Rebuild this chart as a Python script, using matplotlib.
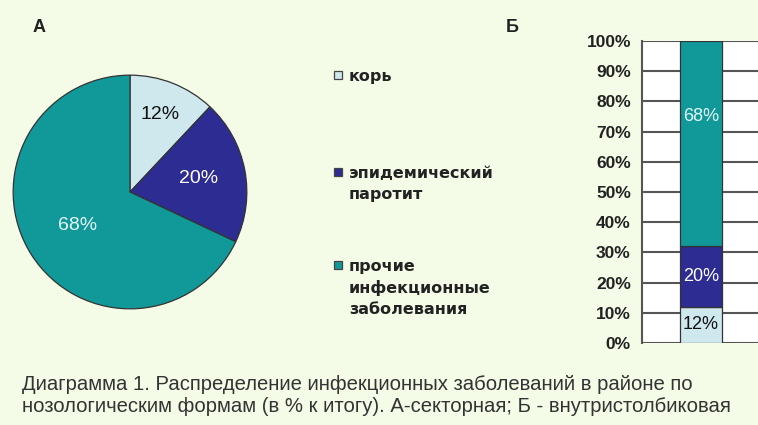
import matplotlib
matplotlib.use("Agg")
import matplotlib.pyplot as plt
import numpy as np

categories = ["корь", "эпидемический\nпаротит", "прочие\nинфекционные\nзаболевания"]
values = [12, 20, 68]
pct_labels = ["12%", "20%", "68%"]
yticks = [0, 10, 20, 30, 40, 50, 60, 70, 80, 90, 100]
ytick_labels = [f"{v}%" for v in yticks]
caption_lines = ["Диаграмма 1. Распределение инфекционных заболеваний в районе по",
                 "нозологическим формам (в % к итогу). А-секторная; Б - внутристолбиковая"]

colors = ["#cfe8ee", "#2d2c92", "#11999a"]
pct_colors = ["#111111", "#ffffff", "#e4f6f6"]
BG = "#f4fbe6"

W, H = 758, 425
fig = plt.figure(figsize=(W / 100, H / 100), dpi=100, facecolor=BG)

def fx(px):
    return px / W

def fy(py):
    return 1 - py / H

# Pie
axp = fig.add_axes([fx(12), fy(310), 236 / W, 236 / H])
axp.set_facecolor(BG)
wedges, _ = axp.pie(values, colors=colors, startangle=90, counterclock=False,
                    radius=1, wedgeprops=dict(edgecolor="#333333", linewidth=0.9))
axp.set_xlim(-1.01, 1.01)
axp.set_ylim(-1.01, 1.01)
axp.set_aspect("equal")
axp.axis("off")
radii = [0.71, 0.60, 0.53]
for w, lab, c, r in zip(wedges, pct_labels, pct_colors, radii):
    ang = np.deg2rad((w.theta1 + w.theta2) / 2)
    axp.text(r * np.cos(ang), r * np.sin(ang), lab, ha="center", va="center",
             fontsize=14, color=c, family="Liberation Sans")

# Panel letters
fig.text(fx(33), fy(28), "А", fontsize=13, fontweight="bold", family="Liberation Sans",
         ha="left", va="center", color="#222222")
fig.text(fx(506), fy(27), "Б", fontsize=13, fontweight="bold", family="Liberation Sans",
         ha="left", va="center", color="#222222")

# Legend
leg_y = [75, 172, 265]
for cat, c, y in zip(categories, colors, leg_y):
    fig.patches.append(matplotlib.patches.Rectangle((fx(334), fy(y + 4)), 8 / W, 8 / H,
                       transform=fig.transFigure, facecolor=c, edgecolor="#444444",
                       linewidth=0.9))
    fig.text(fx(349), fy(y - 6), cat, fontsize=11.5, fontweight="bold", family="DejaVu Sans",
             ha="left", va="top", color="#222222", linespacing=1.5,
             transform=fig.transFigure)

# Bar
axb = fig.add_axes([fx(642), fy(343), (W - 642) / W, (343 - 41) / H])
axb.set_facecolor("white")
bottom = 0
bw = 0.6
xpos = 0
for v, c, lab, tc in zip(values, colors, pct_labels, pct_colors):
    axb.bar(xpos, v, bottom=bottom, width=bw, color=c, edgecolor="#333333",
            linewidth=0.9, zorder=3)
    ly = bottom + v / 2 if v < 50 else bottom + v * 0.63
    axb.text(xpos, ly, lab, ha="center", va="center", fontsize=13, color=tc,
             family="Liberation Sans", zorder=4)
    bottom += v
for y in yticks:
    axb.axhline(y, color="#555555", linewidth=1.5, zorder=1)
left = -bw / 2 - 38 / 70
axb.set_xlim(left, left + (W - 642) / 70)
axb.set_ylim(0, 100)
axb.set_yticks(yticks)
axb.set_yticklabels(ytick_labels, fontsize=12.5, fontweight="bold", family="Liberation Sans",
                    color="#222222")
axb.tick_params(axis="y", length=0, pad=8)
axb.set_xticks([])
for s in ["top", "right", "bottom"]:
    axb.spines[s].set_visible(False)
axb.spines["left"].set_color("#555555")
axb.spines["left"].set_linewidth(1.5)

# Caption
fig.text(fx(22), fy(385), caption_lines[0], fontsize=14.6, family="Liberation Sans",
         ha="left", va="center", color="#333333")
fig.text(fx(22), fy(407), caption_lines[1], fontsize=14.6, family="Liberation Sans",
         ha="left", va="center", color="#333333")

fig.savefig("out.png", dpi=100, facecolor=BG)
